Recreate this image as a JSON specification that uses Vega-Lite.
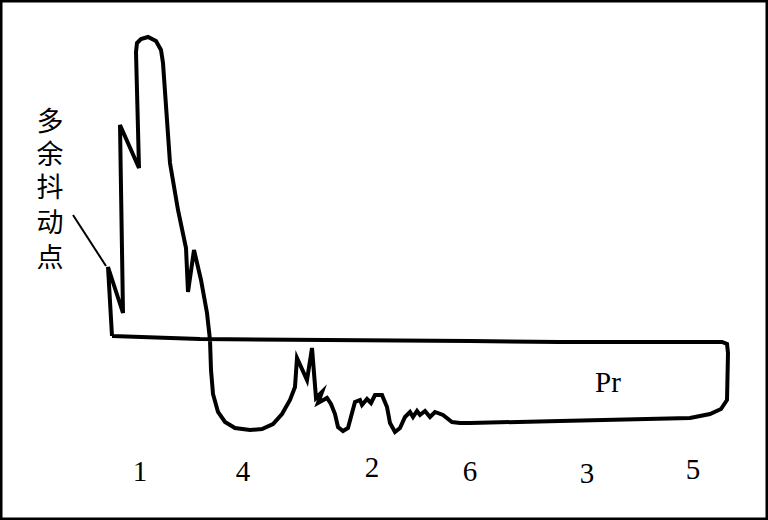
{
  "$schema": "https://vega.github.io/schema/vega-lite/v6.json",
  "width": 768,
  "height": 520,
  "autosize": {"type": "fit", "contains": "padding"},
  "padding": 0,
  "background": "white",
  "config": {"view": {"stroke": "black", "strokeWidth": 5}},
  "datasets": {
    "curve": [
      {"i": 1, "x": 112, "y": 336},
      {"i": 2, "x": 108, "y": 267},
      {"i": 3, "x": 123, "y": 313},
      {"i": 4, "x": 120, "y": 125},
      {"i": 5, "x": 139, "y": 168},
      {"i": 6, "x": 136, "y": 52},
      {"i": 7, "x": 137, "y": 43},
      {"i": 8, "x": 141, "y": 39},
      {"i": 9, "x": 148, "y": 37},
      {"i": 10, "x": 156, "y": 41},
      {"i": 11, "x": 161, "y": 50},
      {"i": 12, "x": 163, "y": 63},
      {"i": 13, "x": 170, "y": 163},
      {"i": 14, "x": 178, "y": 210},
      {"i": 15, "x": 186, "y": 248},
      {"i": 16, "x": 188, "y": 292},
      {"i": 17, "x": 194, "y": 250},
      {"i": 18, "x": 201, "y": 280},
      {"i": 19, "x": 207, "y": 313},
      {"i": 20, "x": 210, "y": 340},
      {"i": 21, "x": 211, "y": 370},
      {"i": 22, "x": 213, "y": 394},
      {"i": 23, "x": 218, "y": 412},
      {"i": 24, "x": 225, "y": 422},
      {"i": 25, "x": 235, "y": 428},
      {"i": 26, "x": 250, "y": 430},
      {"i": 27, "x": 262, "y": 429},
      {"i": 28, "x": 273, "y": 424},
      {"i": 29, "x": 282, "y": 414},
      {"i": 30, "x": 290, "y": 400},
      {"i": 31, "x": 295, "y": 387},
      {"i": 32, "x": 297, "y": 358},
      {"i": 33, "x": 307, "y": 380},
      {"i": 34, "x": 312, "y": 348},
      {"i": 35, "x": 316, "y": 398},
      {"i": 36, "x": 322, "y": 392},
      {"i": 37, "x": 318, "y": 403},
      {"i": 38, "x": 327, "y": 398},
      {"i": 39, "x": 331, "y": 404},
      {"i": 40, "x": 335, "y": 414},
      {"i": 41, "x": 338, "y": 427},
      {"i": 42, "x": 343, "y": 431},
      {"i": 43, "x": 348, "y": 428},
      {"i": 44, "x": 352, "y": 413},
      {"i": 45, "x": 355, "y": 402},
      {"i": 46, "x": 360, "y": 400},
      {"i": 47, "x": 362, "y": 405},
      {"i": 48, "x": 367, "y": 399},
      {"i": 49, "x": 371, "y": 403},
      {"i": 50, "x": 375, "y": 395},
      {"i": 51, "x": 382, "y": 395},
      {"i": 52, "x": 387, "y": 407},
      {"i": 53, "x": 390, "y": 423},
      {"i": 54, "x": 395, "y": 432},
      {"i": 55, "x": 400, "y": 428},
      {"i": 56, "x": 405, "y": 417},
      {"i": 57, "x": 410, "y": 412},
      {"i": 58, "x": 413, "y": 417},
      {"i": 59, "x": 417, "y": 411},
      {"i": 60, "x": 420, "y": 415},
      {"i": 61, "x": 425, "y": 411},
      {"i": 62, "x": 430, "y": 417},
      {"i": 63, "x": 435, "y": 412},
      {"i": 64, "x": 443, "y": 415},
      {"i": 65, "x": 452, "y": 422},
      {"i": 66, "x": 460, "y": 423},
      {"i": 67, "x": 470, "y": 423},
      {"i": 68, "x": 560, "y": 421},
      {"i": 69, "x": 690, "y": 418},
      {"i": 70, "x": 710, "y": 414},
      {"i": 71, "x": 721, "y": 409},
      {"i": 72, "x": 727, "y": 400},
      {"i": 73, "x": 728, "y": 353},
      {"i": 74, "x": 727, "y": 344},
      {"i": 75, "x": 722, "y": 342},
      {"i": 76, "x": 560, "y": 342},
      {"i": 77, "x": 470, "y": 341},
      {"i": 78, "x": 200, "y": 339},
      {"i": 79, "x": 112, "y": 336}
    ],
    "pointer": [
      {"i": 1, "x": 73, "y": 215},
      {"i": 2, "x": 106, "y": 266}
    ],
    "cjk": [
      {"x": 50, "y": 123, "t": "多"},
      {"x": 50, "y": 156, "t": "余"},
      {"x": 50, "y": 189, "t": "抖"},
      {"x": 50, "y": 224, "t": "动"},
      {"x": 50, "y": 259, "t": "点"}
    ],
    "labels": [
      {"x": 140, "y": 472, "t": "1"},
      {"x": 243, "y": 472, "t": "4"},
      {"x": 372, "y": 468, "t": "2"},
      {"x": 470, "y": 472, "t": "6"},
      {"x": 587, "y": 474, "t": "3"},
      {"x": 693, "y": 470, "t": "5"},
      {"x": 608, "y": 383, "t": "Pr"}
    ]
  },
  "layer": [
    {
      "data": {"name": "curve"},
      "mark": {"type": "line", "color": "black", "strokeWidth": 4, "strokeJoin": "miter", "strokeMiterLimit": 5, "clip": false},
      "encoding": {
        "x": {"field": "x", "type": "quantitative", "scale": {"domain": [0, 768], "nice": false, "zero": false}, "axis": null},
        "y": {"field": "y", "type": "quantitative", "scale": {"domain": [0, 520], "nice": false, "zero": false, "reverse": true}, "axis": null},
        "order": {"field": "i", "type": "quantitative"}
      }
    },
    {
      "data": {"name": "pointer"},
      "mark": {"type": "line", "color": "black", "strokeWidth": 2},
      "encoding": {
        "x": {"field": "x", "type": "quantitative", "axis": null},
        "y": {"field": "y", "type": "quantitative", "axis": null},
        "order": {"field": "i", "type": "quantitative"}
      }
    },
    {
      "data": {"name": "cjk"},
      "mark": {"type": "text", "font": "Noto Sans CJK SC", "fontSize": 27, "color": "black", "align": "center", "baseline": "middle"},
      "encoding": {
        "x": {"field": "x", "type": "quantitative", "axis": null},
        "y": {"field": "y", "type": "quantitative", "axis": null},
        "text": {"field": "t"}
      }
    },
    {
      "data": {"name": "labels"},
      "mark": {"type": "text", "font": "Liberation Serif", "fontSize": 29, "color": "black", "align": "center", "baseline": "middle"},
      "encoding": {
        "x": {"field": "x", "type": "quantitative", "axis": null},
        "y": {"field": "y", "type": "quantitative", "axis": null},
        "text": {"field": "t"}
      }
    }
  ]
}
